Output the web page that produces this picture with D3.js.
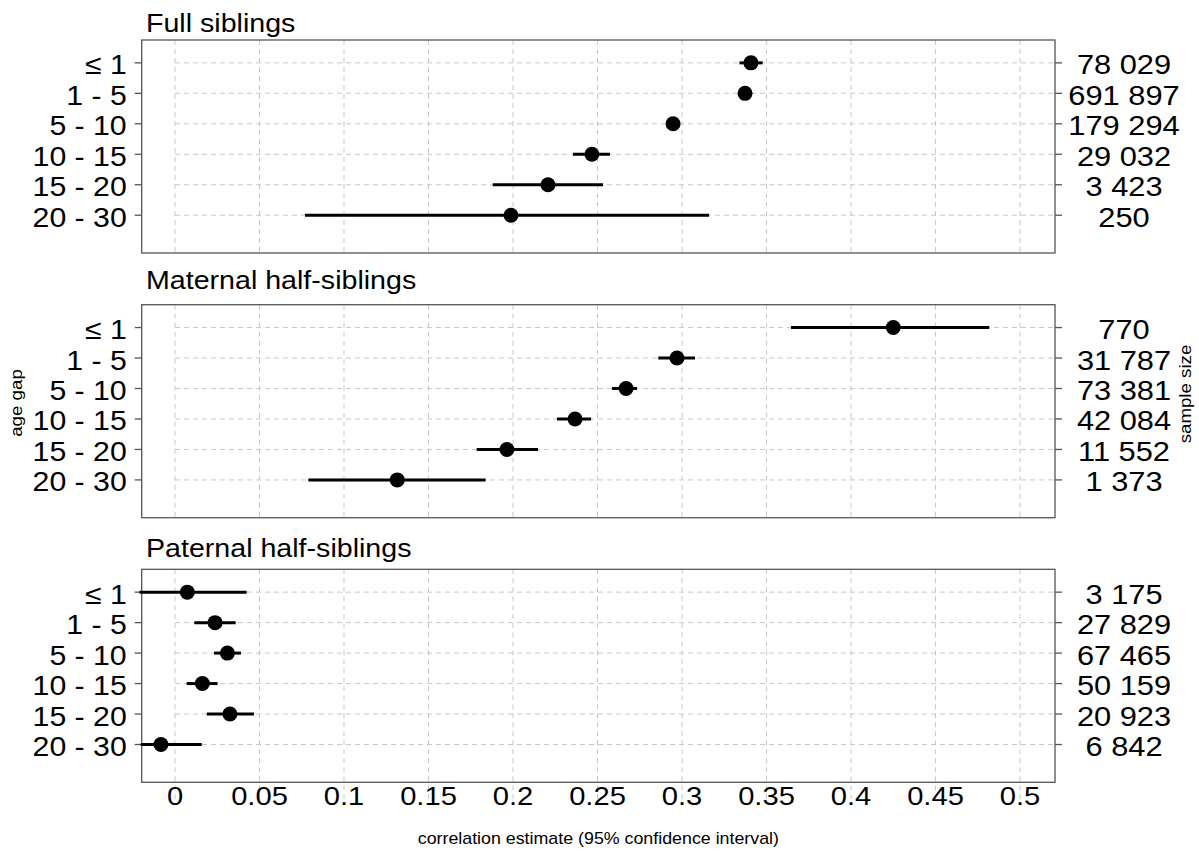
<!DOCTYPE html>
<html lang="en">
<head>
<meta charset="utf-8">
<style>
  body { margin: 0; background: #fff; }
  text { font-family: "Liberation Sans", Arial, Helvetica, sans-serif; fill: #000; }
  .grid { stroke: #c8c8c8; stroke-width: 1; stroke-dasharray: 5,4; fill: none; }
  .box { fill: none; stroke: #555; stroke-width: 1.3; }
  .tick { stroke: #555; stroke-width: 1.3; }
  .ci { stroke: #000; stroke-width: 3; }
</style>
</head>
<body>
<script src="https://d3js.org/d3.v7.min.js"></script>
<script>
// categories
var ageGaps = ["\u2264 1", "1 - 5", "5 - 10", "10 - 15", "15 - 20", "20 - 30"];
var groups = ["Full siblings", "Maternal half-siblings", "Paternal half-siblings"];

// correlation estimates and 95% CI
var fullEst = [0.3408, 0.3373, 0.2947, 0.2467, 0.2207, 0.1988];
var fullLo  = [0.3340, 0.3355, 0.2925, 0.2355, 0.1880, 0.0769];
var fullHi  = [0.3477, 0.3390, 0.2970, 0.2574, 0.2533, 0.3160];
var fullN   = [78029, 691897, 179294, 29032, 3423, 250];

var matEst = [0.4250, 0.2970, 0.2669, 0.2367, 0.1964, 0.1315];
var matLo  = [0.3645, 0.2860, 0.2586, 0.2260, 0.1785, 0.0789];
var matHi  = [0.4818, 0.3077, 0.2734, 0.2462, 0.2148, 0.1838];
var matN   = [770, 31787, 73381, 42084, 11552, 1373];

var patEst = [0.0073, 0.0237, 0.0310, 0.0162, 0.0325, -0.0083];
var patLo  = [-0.0210, 0.0114, 0.0231, 0.0069, 0.0188, -0.0203];
var patHi  = [0.0424, 0.0359, 0.0390, 0.0252, 0.0467, 0.0158];
var patN   = [3175, 27829, 67465, 50159, 20923, 6842];

var xTicks = [0, 0.05, 0.1, 0.15, 0.2, 0.25, 0.3, 0.35, 0.4, 0.45, 0.5];

var panels = [
  {title: groups[0], est: fullEst, lo: fullLo, hi: fullHi, n: fullN},
  {title: groups[1], est: matEst, lo: matLo, hi: matHi, n: matN},
  {title: groups[2], est: patEst, lo: patLo, hi: patHi, n: patN}
];

// layout
var W = 1199, H = 852,
    left = 141.7, right = 1055,
    panelTop = [40, 304.7, 569.3],
    titleGap = [7.7, 15.4, 12.6],
    panelH = 213,
    sx = 1.1; // horizontal stretch of the text

var svg = d3.select("body").append("svg")
    .attr("width", W)
    .attr("height", H);

var x = d3.scaleLinear().domain([-0.0197, 0.5207]).range([left, right]);

var fmtN = d3.formatLocale({decimal: ".", thousands: " ", grouping: [3], currency: ["", ""]}).format(",d");
var fmtX = d3.format("~g");

function stretchText(g, px, py, str, size, anchor, rot) {
  return g.append("text")
      .attr("transform", "translate(" + px + "," + py + ")" + (rot ? " rotate(" + rot + ")" : "") + " scale(" + sx + ",1)")
      .attr("text-anchor", anchor)
      .style("font-size", size + "px")
      .text(str);
}

panels.forEach(function (p, k) {
  var top = panelTop[k];
  var y = d3.scaleLinear().domain([-0.75, 6.24]).range([top, top + panelH]);
  var g = svg.append("g");
  var last = k === panels.length - 1;

  // vertical grid
  g.selectAll("line.vg").data(xTicks).enter().append("line")
      .attr("class", "grid")
      .attr("x1", function (d) { return x(d); })
      .attr("x2", function (d) { return x(d); })
      .attr("y1", top)
      .attr("y2", last ? top + panelH + 20 : top + panelH);

  // horizontal grid
  g.selectAll("line.hg").data(ageGaps).enter().append("line")
      .attr("class", "grid")
      .attr("x1", x(0))
      .attr("x2", right)
      .attr("y1", function (d, i) { return y(i); })
      .attr("y2", function (d, i) { return y(i); });

  // box
  g.append("rect").attr("class", "box")
      .attr("x", left).attr("y", top)
      .attr("width", right - left).attr("height", panelH);

  // ticks left and right, with labels
  ageGaps.forEach(function (a, i) {
    g.append("line").attr("class", "tick")
        .attr("x1", left - 7).attr("x2", left)
        .attr("y1", y(i)).attr("y2", y(i));
    g.append("line").attr("class", "tick")
        .attr("x1", right).attr("x2", right + 7)
        .attr("y1", y(i)).attr("y2", y(i));
    stretchText(g, left - 15, y(i) + 11.5, a, 27.5, "end");
    stretchText(g, 1124, y(i) + 11.5, fmtN(p.n[i]), 28, "middle");
  });

  // title
  stretchText(g, 146, top - titleGap[k], p.title, 26, "start");

  // confidence intervals
  g.selectAll("line.ci").data(p.est).enter().append("line")
      .attr("class", "ci")
      .attr("x1", function (d, i) { return x(p.lo[i]); })
      .attr("x2", function (d, i) { return x(p.hi[i]); })
      .attr("y1", function (d, i) { return y(i); })
      .attr("y2", function (d, i) { return y(i); });

  // estimates
  g.selectAll("circle").data(p.est).enter().append("circle")
      .attr("cx", function (d) { return x(d); })
      .attr("cy", function (d, i) { return y(i); })
      .attr("r", 7.5)
      .attr("fill", "#000");

  if (last) {
    xTicks.forEach(function (t) {
      stretchText(g, x(t), top + panelH + 23, fmtX(t), 26.5, "middle");
    });
  }
});

// axis titles
stretchText(svg, (left + right) / 2, 843.5, "correlation estimate (95% confidence interval)", 16.2, "middle");
stretchText(svg, 22, 403, "age gap", 17, "middle", -90);
stretchText(svg, 1191, 394, "sample size", 17, "middle", -90);
</script>
</body>
</html>
